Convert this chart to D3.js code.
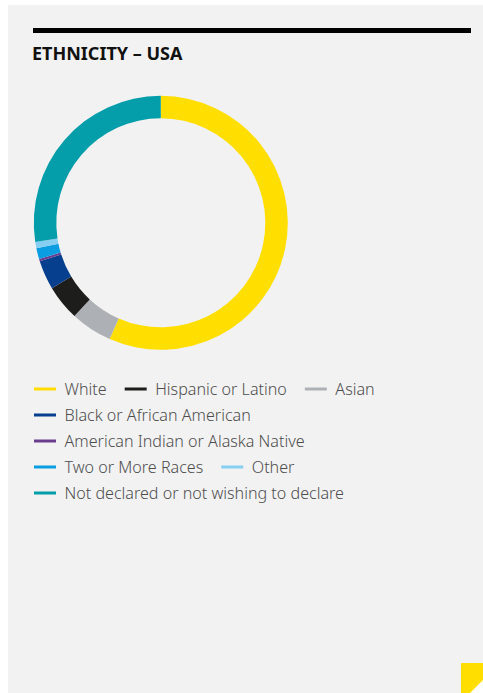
<!DOCTYPE html>
<html>
<head>
<meta charset="utf-8">
<script src="https://cdn.jsdelivr.net/npm/d3@7"></script>
<style>
  html, body { margin: 0; padding: 0; background: #ffffff; }
  svg { display: block; }
  text { font-family: "Noto Sans", "Open Sans", sans-serif; }
</style>
</head>
<body>
<svg id="chart" width="483" height="693"></svg>
<script>
// Ethnicity breakdown, share of total (%)
const categories = [
  "White",
  "Hispanic or Latino",
  "Asian",
  "Black or African American",
  "American Indian or Alaska Native",
  "Two or More Races",
  "Other",
  "Not declared or not wishing to declare"
];
// Ring order runs clockwise from 12 o'clock
const ringOrder = [
  "White",
  "Asian",
  "Hispanic or Latino",
  "Black or African American",
  "American Indian or Alaska Native",
  "Two or More Races",
  "Other",
  "Not declared or not wishing to declare"
];
const shares = {
  "White": 56.6,
  "Asian": 5.3,
  "Hispanic or Latino": 4.5,
  "Black or African American": 3.7,
  "American Indian or Alaska Native": 0.3,
  "Two or More Races": 1.4,
  "Other": 0.8,
  "Not declared or not wishing to declare": 27.4
};
const palette = [
  "#ffde00", "#1d1d1b", "#adb1b6", "#073f8f",
  "#6a3d8f", "#0a9de2", "#86cff2", "#039ea9"
];
const title = "ETHNICITY – USA";

const svg = d3.select("#chart");
const W = 483, H = 693;

// panel
svg.append("rect").attr("x", 8).attr("y", 5).attr("width", W - 8).attr("height", H - 5)
  .attr("fill", "#f2f2f2");
// top rule
svg.append("rect").attr("x", 33).attr("y", 28).attr("width", 438).attr("height", 5)
  .attr("fill", "#000");
// title
svg.append("text").attr("x", 32).attr("y", 60)
  .attr("font-size", 18).attr("font-weight", 700).attr("fill", "#111")
  .text(title);

// corner tab
svg.append("rect").attr("x", 461).attr("y", 663).attr("width", 22).attr("height", 30)
  .attr("fill", "#ffde00");
svg.append("path").attr("d", "M483,680 L483,693 L470,693 Z").attr("fill", "#ffffff");

const color = d3.scaleOrdinal().domain(categories).range(palette);

// donut
const cx = 160.8, cy = 222.8, rOuter = 127, rInner = 104.5;
const pie = d3.pie().sort(null).value(d => shares[d]);
const arc = d3.arc().innerRadius(rInner).outerRadius(rOuter);
svg.append("g").attr("transform", `translate(${cx},${cy})`)
  .selectAll("path")
  .data(pie(ringOrder))
  .join("path")
  .attr("d", arc)
  .attr("fill", d => color(d.data));

// legend, flowing items into rows
const legend = svg.append("g").attr("transform", "translate(34,389)");
const maxW = 400, rowH = 26, swatch = 22, gapText = 8.5, gapItem = 18;
let x = 0, y = 0;
categories.forEach(c => {
  const g = legend.append("g");
  g.append("rect").attr("y", -1.5).attr("width", swatch).attr("height", 3).attr("fill", color(c));
  const t = g.append("text").attr("x", swatch + gapText).attr("y", 0).attr("dy", "0.36em")
    .attr("font-size", 16.1).attr("font-weight", 300).attr("fill", "#4d4d4d").text(c);
  const w = swatch + gapText + t.node().getComputedTextLength();
  if (x > 0 && x + w > maxW) { x = 0; y += rowH; }
  g.attr("transform", `translate(${x},${y})`);
  x += w + gapItem;
});
</script>
</body>
</html>
